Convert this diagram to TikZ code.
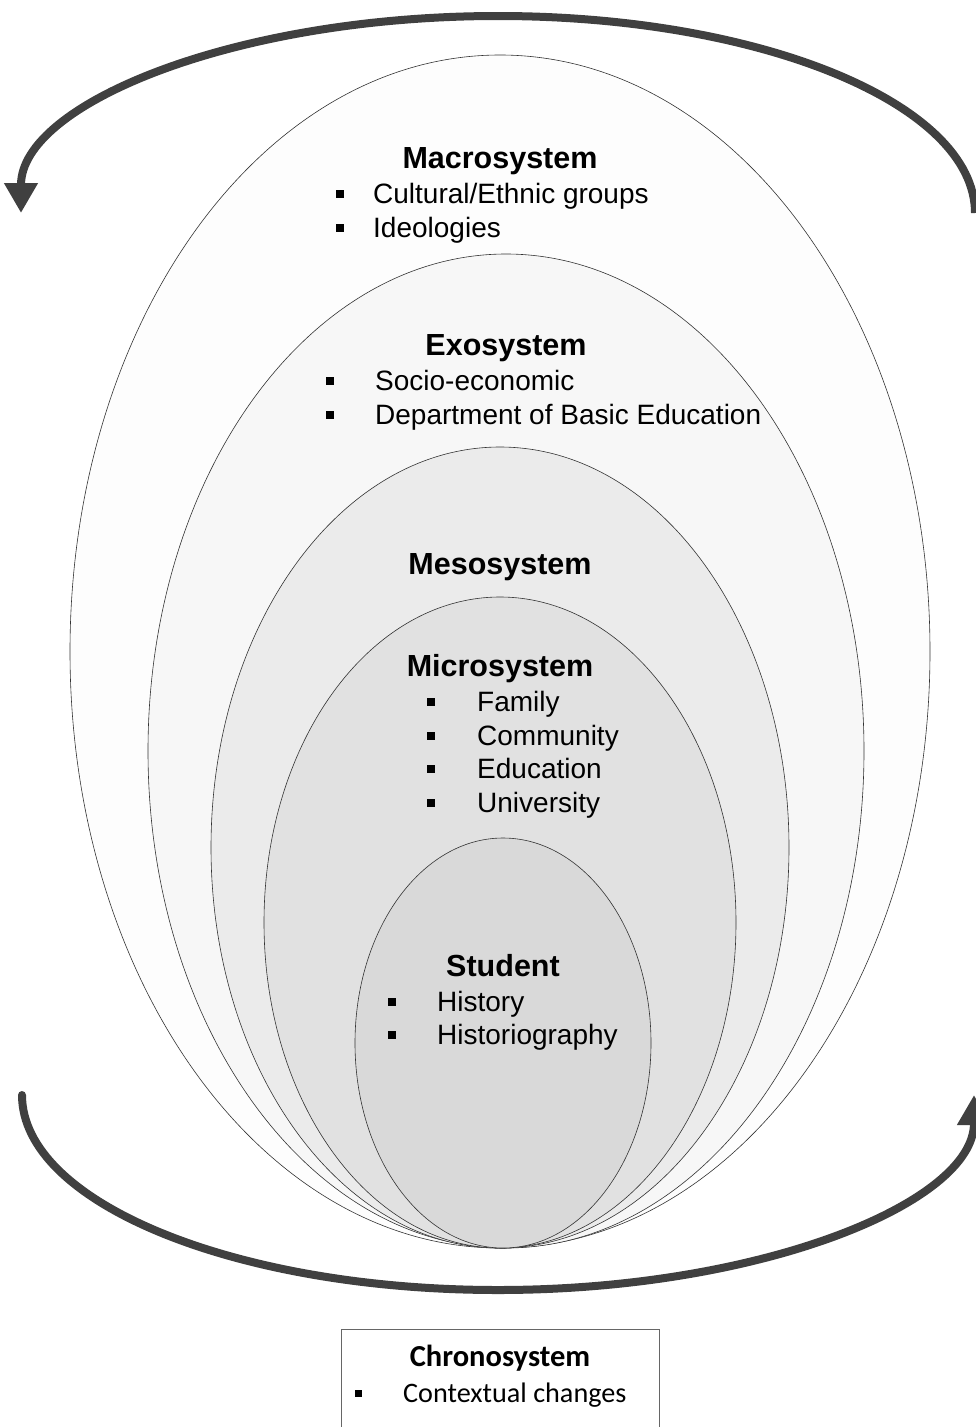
\documentclass[tikz,border=0pt]{standalone}
\usepackage{fontspec}
\setmainfont{Liberation Sans}
\newfontfamily\calib{Carlito}
\usetikzlibrary{shapes.geometric,arrows.meta}
\definecolor{arrowgray}{HTML}{404040}
\definecolor{cmacro}{HTML}{FDFDFD}
\definecolor{cexo}{HTML}{F7F7F7}
\definecolor{cmeso}{HTML}{EBEBEB}
\definecolor{cmicro}{HTML}{E1E1E1}
\definecolor{cstud}{HTML}{D9D9D9}
\tikzset{
  sys/.style={ellipse,draw=black!80,line width=0.6pt,inner sep=0pt},
  head/.style={anchor=base,inner sep=0pt,font=\fontsize{30.5}{30}\selectfont\bfseries},
  item/.style={anchor=base west,inner sep=0pt,font=\fontsize{28}{30}\selectfont},
  bul/.style={fill=black,minimum size=8pt,inner sep=0pt,draw=none},
  bigarrow/.style={draw=arrowgray,line width=8pt},
}
\begin{document}
\begin{tikzpicture}[x=1pt,y=-1pt]
\useasboundingbox (0,0) rectangle (976,1427);
% ellipses
\node[sys,fill=cmacro,minimum width=860pt,minimum height=1193pt] (macro) at (500,651.5) {};
\node[sys,fill=cexo,minimum width=716pt,minimum height=994pt] (exo) at (506,751) {};
\node[sys,fill=cmeso,minimum width=578pt,minimum height=801pt] (meso) at (500,847.5) {};
\node[sys,fill=cmicro,minimum width=472pt,minimum height=651pt] (micro) at (500,922.5) {};
\node[sys,fill=cstud,minimum width=296pt,minimum height=410pt] (stud) at (503,1043) {};
% Macrosystem
\node[head] (hmacro) at (500,168) {Macrosystem};
\node[bul] (b1) at (340,194) {};
\node[item] (t1) at (373,203) {Cultural/Ethnic groups};
\node[bul] (b2) at (340,228) {};
\node[item] (t2) at (373,237) {Ideologies};
% Exosystem
\node[head] (hexo) at (506,355) {Exosystem};
\node[bul] (b3) at (330,381) {};
\node[item] (t3) at (375,390) {Socio-economic};
\node[bul] (b4) at (330,415) {};
\node[item] (t4) at (375,424) {Department of Basic Education};
% Mesosystem
\node[head] (hmeso) at (500,574) {Mesosystem};
% Microsystem
\node[head] (hmicro) at (500,676) {Microsystem};
\node[bul] (b5) at (431,702) {};
\node[item] (t5) at (477,711) {Family};
\node[bul] (b6) at (431,736) {};
\node[item] (t6) at (477,745) {Community};
\node[bul] (b7) at (431,769) {};
\node[item] (t7) at (477,778) {Education};
\node[bul] (b8) at (431,803) {};
\node[item] (t8) at (477,812) {University};
% Student
\node[head] (hstud) at (503,976) {Student};
\node[bul] (b9) at (392,1002) {};
\node[item] (t9) at (437,1011) {History};
\node[bul] (b10) at (392,1035) {};
\node[item] (t10) at (437,1044) {Historiography};
% arrows
\coordinate (ta) at (975,213);
\draw[bigarrow,-{Triangle[width=32pt,length=30pt]}] (ta) arc[start angle=0,end angle=-180,x radius=477,y radius=197];
\coordinate (ba) at (22,1095);
\draw[bigarrow,line cap=round,-{Triangle[width=32pt,length=30pt]}] (ba) arc[start angle=180,end angle=0,x radius=476,y radius=195];
% chronosystem box
\node[draw=black!60,line width=0.6pt,minimum width=318pt,minimum height=120pt,anchor=north west,inner sep=0pt] (chrono) at (341,1329) {};
\node[anchor=base,inner sep=0pt,font=\calib\fontsize{30.5}{30}\selectfont\bfseries] (hchrono) at (500,1366) {Chronosystem};
\node[bul,minimum size=7pt] (b11) at (358,1393) {};
\node[anchor=base west,inner sep=0pt,font=\calib\fontsize{28.2}{30}\selectfont] (t11) at (403,1402) {Contextual changes};
\end{tikzpicture}
\end{document}
